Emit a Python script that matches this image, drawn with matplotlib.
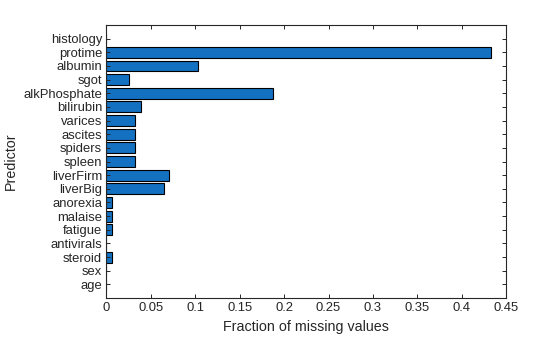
import matplotlib.pyplot as plt
import numpy as np
from matplotlib.ticker import FuncFormatter

# Predictor names (bottom to top) and fraction of missing values
predictors = ['age', 'sex', 'steroid', 'antivirals', 'fatigue', 'malaise',
              'anorexia', 'liverBig', 'liverFirm', 'spleen', 'spiders',
              'ascites', 'varices', 'bilirubin', 'alkPhosphate', 'sgot',
              'albumin', 'protime', 'histology']
missing = [0.0, 0.0, 0.00645, 0.0, 0.00645, 0.00645,
           0.00645, 0.0645, 0.071, 0.0323, 0.0323,
           0.0323, 0.0323, 0.0387, 0.187, 0.0258,
           0.1032, 0.4323, 0.0]

plt.rcParams['font.family'] = ['Liberation Sans', 'DejaVu Sans']
txt = '#262626'

fig = plt.figure(figsize=(5.6, 3.37), dpi=100)
ax = fig.add_axes([0.1898, 0.1157, 0.7143, 0.81])

pos = np.arange(1, len(predictors) + 1)
ax.barh(pos, missing, height=0.8, color='#1470C0', edgecolor='black', linewidth=0.8)

ax.set_xlim(0, 0.45)
ax.set_ylim(0, 20)
ax.set_xticks(np.arange(0, 0.451, 0.05))
ax.xaxis.set_major_formatter(FuncFormatter(lambda v, p: '%g' % round(v, 2)))
ax.set_yticks(pos)
ax.set_yticklabels(predictors)

ax.tick_params(direction='in', length=3, width=0.7, colors=txt, labelsize=9.4,
               top=True, right=True, pad=3)
for s in ax.spines.values():
    s.set_color(txt)
    s.set_linewidth(0.8)

ax.set_xlabel('Fraction of missing values', fontsize=10.3, color=txt)
ax.set_ylabel('Predictor', fontsize=10.3, color=txt)

fig.savefig('out.png', dpi=100)
